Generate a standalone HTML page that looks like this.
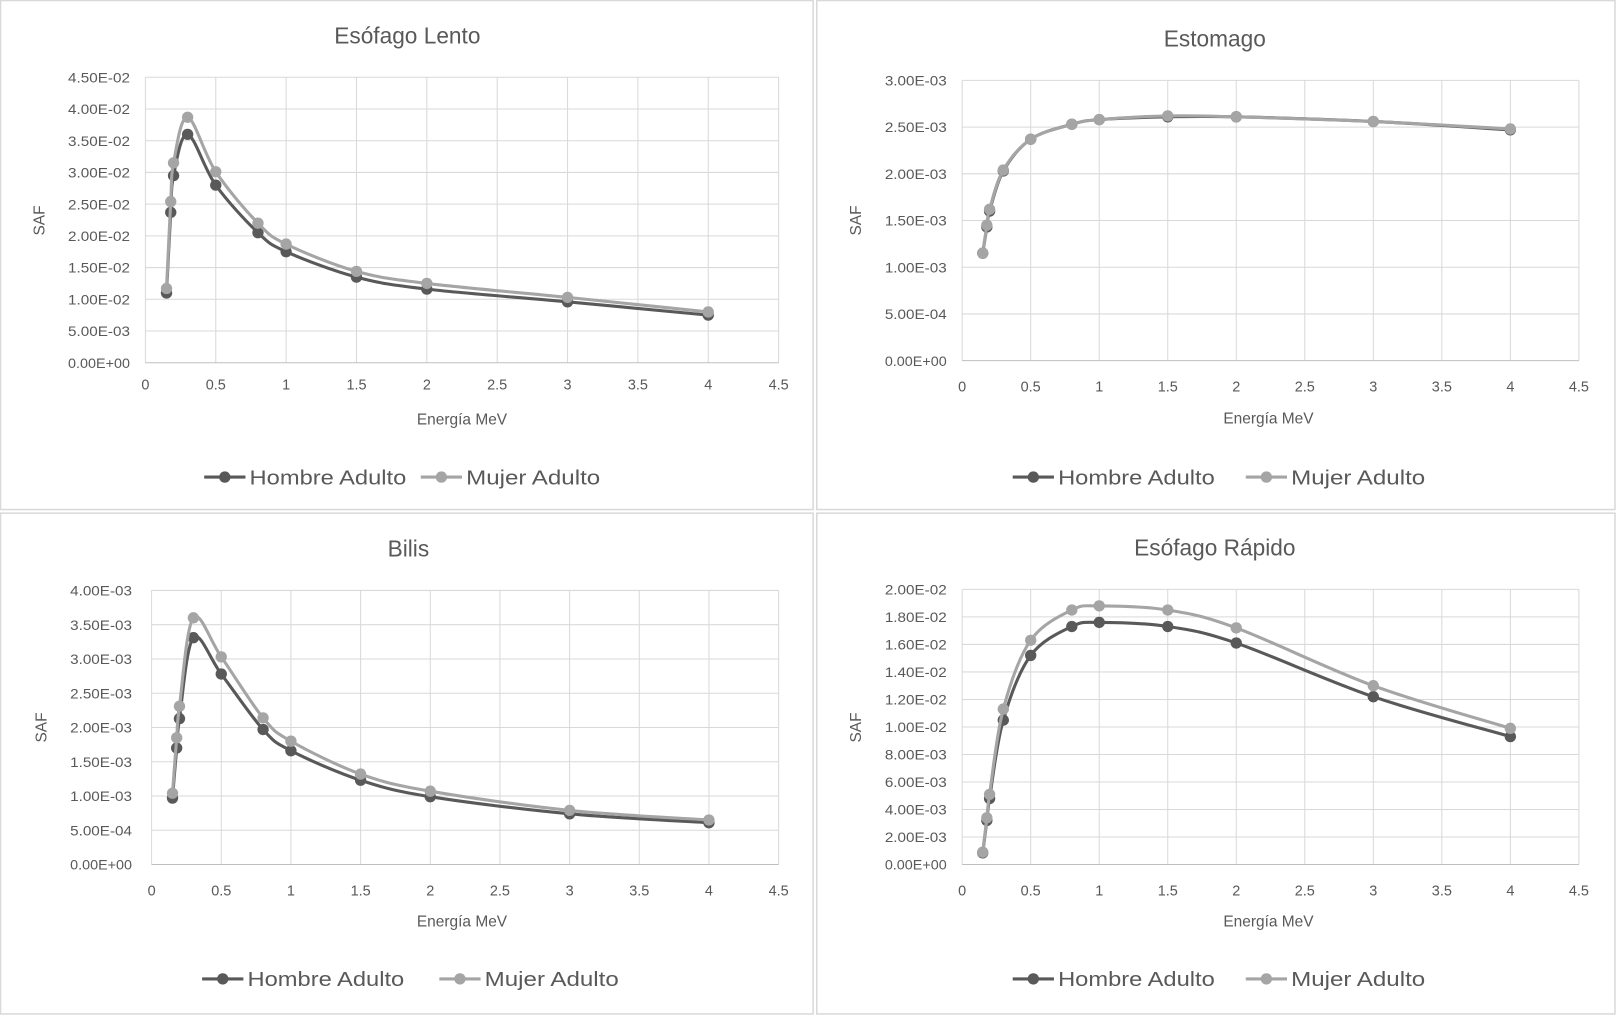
<!DOCTYPE html>
<html><head><meta charset="utf-8">
<style>
html,body{margin:0;padding:0;background:#fff;}
svg{display:block;}
text{font-family:"Liberation Sans",sans-serif;fill:#595959;}
</style></head>
<body>
<svg id="s" width="1616" height="1016" viewBox="0 0 1567 986" preserveAspectRatio="none" xmlns="http://www.w3.org/2000/svg"></svg>
<script>
const X=[0.15,0.18,0.2,0.3,0.5,0.8,1,1.5,2,3,4];
const panels=[
{box:[0.5,0.5,788,494],x0:141,x1:755,yT:75,yB:352,ymax:4.5e-2,step:0.5e-2,labs:["0.00E+00","5.00E-03","1.00E-02","1.50E-02","2.00E-02","2.50E-02","3.00E-02","3.50E-02","4.00E-02","4.50E-02"],
 title:"Esófago Lento",tx:395,ty:42,lx:126,saf:[38,214],xl:378,ex:448,ey:412,leg:[198,408],ly:463,
 h:[1.1e-2,2.37e-2,2.95e-2,3.6e-2,2.8e-2,2.05e-2,1.75e-2,1.35e-2,1.16e-2,0.96e-2,0.75e-2],
 m:[1.17e-2,2.54e-2,3.15e-2,3.87e-2,3.01e-2,2.2e-2,1.87e-2,1.44e-2,1.25e-2,1.03e-2,0.8e-2]},
{box:[792,0.5,774,494],x0:933,x1:1531,yT:78,yB:350,ymax:3e-3,step:0.5e-3,labs:["0.00E+00","5.00E-04","1.00E-03","1.50E-03","2.00E-03","2.50E-03","3.00E-03"],
 title:"Estomago",tx:1178,ty:45,lx:918,saf:[830,214],xl:380,ex:1230,ey:411,leg:[982,1208],ly:463,
 h:[1.15e-3,1.43e-3,1.6e-3,2.03e-3,2.37e-3,2.53e-3,2.58e-3,2.61e-3,2.61e-3,2.56e-3,2.47e-3],
 m:[1.15e-3,1.45e-3,1.62e-3,2.04e-3,2.37e-3,2.53e-3,2.58e-3,2.62e-3,2.61e-3,2.56e-3,2.48e-3]},
{box:[0.5,498,788,486],x0:147,x1:755,yT:573,yB:839,ymax:4e-3,step:0.5e-3,labs:["0.00E+00","5.00E-04","1.00E-03","1.50E-03","2.00E-03","2.50E-03","3.00E-03","3.50E-03","4.00E-03"],
 title:"Bilis",tx:396,ty:540,lx:128,saf:[40,706],xl:869,ex:448,ey:899,leg:[196,426],ly:950,
 h:[0.97e-3,1.7e-3,2.13e-3,3.31e-3,2.78e-3,1.97e-3,1.66e-3,1.23e-3,0.99e-3,0.74e-3,0.61e-3],
 m:[1.04e-3,1.85e-3,2.31e-3,3.6e-3,3.03e-3,2.14e-3,1.8e-3,1.32e-3,1.07e-3,0.79e-3,0.65e-3]},
{box:[792,498,774,486],x0:933,x1:1531,yT:572,yB:839,ymax:2e-2,step:0.2e-2,labs:["0.00E+00","2.00E-03","4.00E-03","6.00E-03","8.00E-03","1.00E-02","1.20E-02","1.40E-02","1.60E-02","1.80E-02","2.00E-02"],
 title:"Esófago Rápido",tx:1178,ty:539,lx:918,saf:[830,706],xl:869,ex:1230,ey:899,leg:[982,1208],ly:950,
 h:[0.85e-3,3.2e-3,4.8e-3,10.5e-3,15.2e-3,17.3e-3,17.6e-3,17.3e-3,16.1e-3,12.2e-3,9.3e-3],
 m:[0.9e-3,3.4e-3,5.1e-3,11.3e-3,16.3e-3,18.5e-3,18.8e-3,18.5e-3,17.2e-3,13.0e-3,9.9e-3]}
];
let o="";
function smooth(p){let d=`M${p[0][0]},${p[0][1]}`;for(let i=0;i<p.length-1;i++){const a=p[i-1]||p[i],b=p[i],c=p[i+1],e=p[i+2]||c;
d+=` C${b[0]+(c[0]-a[0])/6},${b[1]+(c[1]-a[1])/6} ${c[0]-(e[0]-b[0])/6},${c[1]-(e[1]-b[1])/6} ${c[0]},${c[1]}`;}return d;}
for(const P of panels){
 const [bx,by,bw,bh]=P.box;
 o+=`<rect x="${bx}" y="${by}" width="${bw}" height="${bh}" fill="#fff" stroke="#d9d9d9" stroke-width="1.5"/>`;
 const xs=v=>P.x0+(P.x1-P.x0)*v/4.5, ys=v=>P.yB-(P.yB-P.yT)*v/P.ymax;
 for(let i=0;i<=9;i++){const x=xs(i*0.5);o+=`<line x1="${x}" y1="${P.yT}" x2="${x}" y2="${P.yB}" stroke="#d9d9d9"/>`;
  o+=`<text x="${x}" y="${P.xl}" font-size="14" text-anchor="middle">${i*0.5}</text>`;}
 P.labs.forEach((l,i)=>{const y=ys(i*P.step);o+=`<line x1="${P.x0}" y1="${y}" x2="${P.x1}" y2="${y}" stroke="${i==0?'#bfbfbf':'#d9d9d9'}"/>`;
  o+=`<text x="${P.lx}" y="${y+5}" font-size="13.5" text-anchor="end" textLength="60" lengthAdjust="spacingAndGlyphs">${l}</text>`;});
 o+=`<text x="${P.tx}" y="${P.ty}" font-size="22" text-anchor="middle">${P.title}</text>`;
 o+=`<text x="${P.ex}" y="${P.ey}" font-size="15" text-anchor="middle">Energía MeV</text>`;
 o+=`<text transform="translate(${P.saf[0]+5},${P.saf[1]}) rotate(-90)" font-size="15" text-anchor="middle">SAF</text>`;
 const ser=[[P.h,"#595959"],[P.m,"#a5a5a5"]];
 for(const [d,c] of ser){const pts=X.map((x,i)=>[xs(x),ys(d[i])]);
  o+=`<path d="${smooth(pts)}" fill="none" stroke="${c}" stroke-width="3"/>`;
  for(const p of pts)o+=`<circle cx="${p[0]}" cy="${p[1]}" r="5.5" fill="${c}"/>`;}
 [["Hombre Adulto","#595959",P.leg[0]],["Mujer Adulto","#a5a5a5",P.leg[1]]].forEach(([t,c,x])=>{
  o+=`<line x1="${x}" y1="${P.ly}" x2="${x+40}" y2="${P.ly}" stroke="${c}" stroke-width="3"/><circle cx="${x+20}" cy="${P.ly}" r="5.5" fill="${c}"/>`;
  o+=`<text x="${x+44}" y="${P.ly+7}" font-size="20" textLength="${t.length==13?152:130}" lengthAdjust="spacingAndGlyphs">${t}</text>`;});
}
document.getElementById("s").innerHTML=o;
</script>
</body></html>
